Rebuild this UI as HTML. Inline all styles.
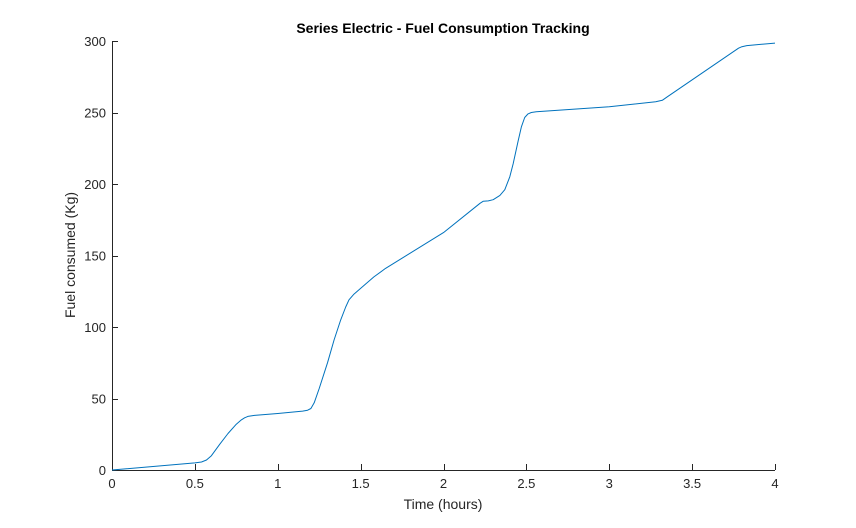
<!DOCTYPE html>
<html><head><meta charset="utf-8"><style>
html,body{margin:0;padding:0;background:#fff;}
svg{display:block;font-family:"Liberation Sans",Arial,sans-serif;}
</style></head><body>
<svg id="chart" width="856" height="528" viewBox="0 0 856 528">
<rect width="856" height="528" fill="#fff"/>
<text x="443" y="33" text-anchor="middle" font-size="14" font-weight="bold" fill="#000">Series Electric - Fuel Consumption Tracking</text>
<g id="axes"></g>
<text x="443" y="509" text-anchor="middle" font-size="14" fill="#262626">Time (hours)</text>
<text transform="translate(75,255) rotate(-90)" text-anchor="middle" font-size="14" fill="#262626">Fuel consumed (Kg)</text>
</svg>
<script>
const timeHours = [0,0.5,0.54,0.57,0.6,0.65,0.7,0.75,0.78,0.8,0.82,0.86,1.0,1.15,1.18,1.2,1.22,1.25,1.3,1.34,1.38,1.41,1.43,1.46,1.5,1.58,1.65,2.0,2.22,2.24,2.27,2.3,2.34,2.37,2.4,2.42,2.45,2.47,2.49,2.51,2.53,2.56,3.0,3.28,3.32,3.35,3.78,3.8,3.83,4.0];
const fuelKg    = [0,5,5.6,7,10,18,25.5,32,35,36.5,37.5,38.2,39.5,41.2,41.8,43,47,57,75,91,105,114,119,123,127,135,141,166,186.5,188,188.2,189,192,196,205,214,230,240,246.5,249,250,250.5,254,257.5,258.5,261,295,296,296.8,298.5];
const xTicks = [0,0.5,1,1.5,2,2.5,3,3.5,4];
const xTickLabels = ["0","0.5","1","1.5","2","2.5","3","3.5","4"];
const yTicks = [0,50,100,150,200,250,300];
const yTickLabels = ["0","50","100","150","200","250","300"];

const X0=112,X1=775,Y0=470,Y1=41;
const xs=v=>X0+(v-0)/(4-0)*(X1-X0);
const ys=v=>Y0-(v-0)/(300-0)*(Y0-Y1);
const NS="http://www.w3.org/2000/svg";
const g=document.getElementById('axes');
function mk(t,a){const e=document.createElementNS(NS,t);for(const k in a)e.setAttribute(k,a[k]);return e;}

const xl=mk('line',{x1:X0,y1:Y0+0.5,x2:X1,y2:Y0+0.5,stroke:'#262626','stroke-width':1});


g.appendChild(xl);
const yl=mk('line',{x1:X0+0.5,y1:Y1,x2:X0+0.5,y2:Y0,stroke:'#262626','stroke-width':1});


g.appendChild(yl);

xTicks.forEach((v,i)=>{
  const x=Math.round(xs(v))+0.5;
  const t=mk('line',{x1:x,y1:Y0,x2:x,y2:Y0-6,stroke:'#262626'});
  
  
  g.appendChild(t);
  const l=mk('text',{x:xs(v),y:Y0+18,'text-anchor':'middle','font-size':13,fill:'#262626'});
  l.textContent=xTickLabels[i];
  
  
  g.appendChild(l);
});
yTicks.forEach((v,i)=>{
  const y=Math.round(ys(v))+0.5;
  const t=mk('line',{x1:X0,y1:y,x2:X0+6,y2:y,stroke:'#262626'});
  
  
  g.appendChild(t);
  const l=mk('text',{x:X0-6,y:ys(v)+5,'text-anchor':'end','font-size':13,fill:'#262626'});
  l.textContent=yTickLabels[i];
  
  
  g.appendChild(l);
});

const pts=timeHours.map((t,i)=>xs(t).toFixed(1)+','+ys(fuelKg[i]).toFixed(1)).join(' ');
const line=mk('polyline',{points:pts,fill:'none',stroke:'#0072BD','stroke-width':1,'stroke-linejoin':'round'});


g.appendChild(line);
</script>
</body></html>
